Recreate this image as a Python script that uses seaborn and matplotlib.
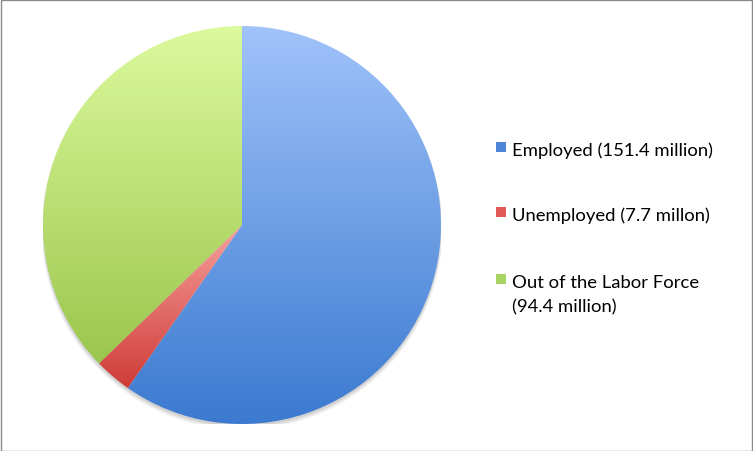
import numpy as np
import matplotlib.pyplot as plt
import seaborn as sns
from matplotlib.colors import LinearSegmentedColormap
from matplotlib.patches import Rectangle, Circle

labels = ['Employed (151.4 million)', 'Unemployed (7.7 millon)', 'Out of the Labor Force\n(94.4 million)']
values = [151.4, 7.7, 94.4]
top_colors = ['#a0c3fa', '#f6a09d', '#dcfa9e']
bottom_colors = ['#3b7ad0', '#cf3b37', '#9bc64c']
legend_colors = ['#4f86d8', '#e05a57', '#a8d463']

sns.set_style('white')
plt.rcParams['font.family'] = ['Lato', 'DejaVu Sans']

W, H = 753, 452
fig = plt.figure(figsize=(W / 100, H / 100), dpi=100)
fig.patch.set_facecolor('white')

# pie area, center ~ (242, 226), radius ~199 px
ax = fig.add_axes([43 / W, 27 / H, 398 / W, 398 / H])
wedges, _ = ax.pie(values, startangle=90, counterclock=False,
                   wedgeprops=dict(linewidth=0))

# soft shadow under the pie
for k, a in enumerate([0.05, 0.06, 0.08]):
    ax.add_patch(Circle((0, -0.012 - 0.004 * (2 - k)), 1.0 + 0.004 * (2 - k),
                        facecolor='black', alpha=a, lw=0, zorder=0))

# vertical gradient in each slice
grad = np.linspace(0, 1, 256).reshape(-1, 1)
for w, c0, c1 in zip(wedges, top_colors, bottom_colors):
    bb = w.get_path().get_extents()
    cmap = LinearSegmentedColormap.from_list('g', [c0, c1])
    im = ax.imshow(grad, cmap=cmap, extent=[bb.x0, bb.x1, bb.y0, bb.y1],
                   origin='upper', aspect='auto', zorder=2, interpolation='bilinear')
    im.set_clip_path(w)
    w.set_facecolor('none')

ax.set_xlim(-1, 1)
ax.set_ylim(-1, 1)
ax.axis('off')

# legend drawn by hand
def px(x, y):
    return x / W, 1 - y / H

rows_y = [148, 213, 280]
for lab, col, yc in zip(labels, legend_colors, rows_y):
    x0, y0 = px(496, yc + 5)
    fig.patches.append(Rectangle((x0, y0), 10 / W, 10 / H, transform=fig.transFigure,
                                 facecolor=col, edgecolor='none'))
    for j, line in enumerate(lab.split('\n')):
        tx, ty = px(512, yc + 8 + 24 * j)
        fig.text(tx, ty, line, fontsize=13.3, color='black', va='baseline', ha='left')

# outer border
fig.patches.append(Rectangle((0.5 / W, 0.5 / H), 1 - 1.5 / W, 1 - 1.5 / H,
                             transform=fig.transFigure, facecolor='none',
                             edgecolor='#8a8a8a', linewidth=1))

fig.savefig('out.png', dpi=100)
